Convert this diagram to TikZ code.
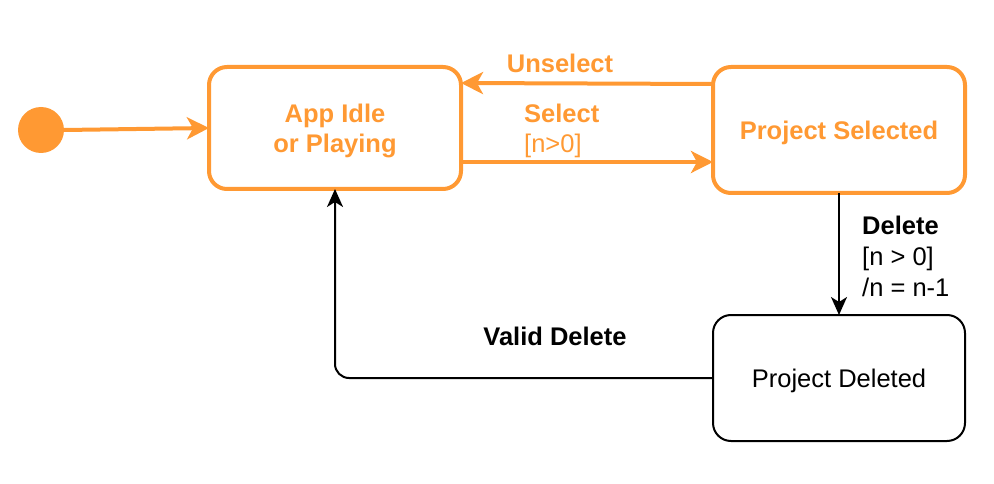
\documentclass[tikz,border=0pt]{standalone}
\usepackage{fontspec}
\setmainfont{Liberation Sans}
\usetikzlibrary{arrows.meta}
\definecolor{orng}{HTML}{FF9933}
\newcommand{\lowered}[1]{\raisebox{-3pt}[\height][\depth]{#1}}
\tikzset{
  txt/.style={font=\fontsize{25.5}{31}\selectfont, inner sep=0pt},
  ostate/.style={draw=orng, line width=4pt, rounded corners=18pt, minimum width=252pt, inner sep=0pt, outer sep=0pt, align=center, text=orng, font=\fontsize{25.5}{30}\selectfont\bfseries},
  bstate/.style={draw=black, line width=2pt, rounded corners=18pt, minimum width=252pt, inner sep=0pt, outer sep=0pt, align=center, font=\fontsize{25.5}{30}\selectfont},
  oarrow/.style={draw=orng, line width=4pt, -{Stealth[length=22pt, width=22pt, inset=6pt]}},
  barrow/.style={draw=black, line width=2pt, -{Stealth[length=18pt, width=16pt, inset=5pt]}}
}
\begin{document}
\begin{tikzpicture}[x=1pt,y=-1pt]
\useasboundingbox (0,0) rectangle (994,484);
\node[circle, fill=orng, minimum size=46pt, inner sep=0pt, outer sep=0pt] (init) at (41,130) {};
\node[ostate, minimum height=122pt] (app) at (335,128) {\lowered{App Idle}\\\lowered{or Playing}};
\node[ostate, minimum height=126pt] (sel) at (839,130) {\lowered{Project Selected}};
\node[bstate, minimum height=126pt] (del) at (839,378) {\lowered{Project Deleted}};

\draw[oarrow] (init.east) -- (app.west);
\coordinate (u1) at (713,84);
\coordinate (u2) at (461,83);
\draw[oarrow] (sel.west |- u1) -- (app.east |- u2);
\coordinate (s1) at (0,162);
\draw[oarrow] (app.east |- s1) -- (sel.west |- s1);
\draw[barrow] (sel.south) -- (del.north);
\draw[barrow, rounded corners=14pt] (del.west) -| (app.south);

\node[txt, text=orng, font=\fontsize{25.5}{31}\selectfont\bfseries] (lu) at (560,63) {Unselect};
\node[txt, text=orng, anchor=west, align=left, font=\fontsize{25.5}{30}\selectfont] (ls) at (524,130.5) {\textbf{Select}\\{}[n>0]};
\node[txt, anchor=west, align=left] (ld) at (862,256.5) {\textbf{Delete}\\{}[n > 0]\\/n = n-1};
\node[txt, font=\fontsize{25.5}{31}\selectfont\bfseries] (lv) at (555,336) {Valid Delete};
\end{tikzpicture}
\end{document}
